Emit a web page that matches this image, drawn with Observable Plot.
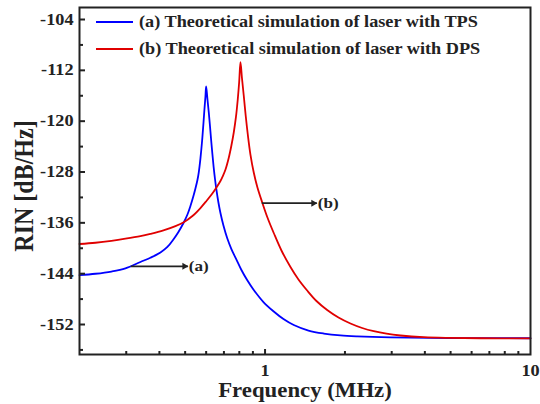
<!DOCTYPE html>
<html><head><meta charset="utf-8">
<script src="https://cdn.jsdelivr.net/npm/d3@7"></script>
<script src="https://cdn.jsdelivr.net/npm/@observablehq/plot@0.6"></script>
<style>html,body{margin:0;padding:0;background:#fff;}</style>
</head><body><div id="chart"></div>
<script>
// Series (a): laser with TPS  (frequency in MHz, RIN in dB/Hz)
const freqA = [0.2, 0.2296, 0.2638, 0.2979, 0.3393, 0.37, 0.4036, 0.4287, 0.4529, 0.4718, 0.494, 0.5101, 0.5235, 0.5373, 0.5467, 0.5563, 0.5626, 0.5709, 0.5794, 0.586, 0.5911, 0.5963, 0.5999, 0.6067, 0.6136, 0.62, 0.6265, 0.6336, 0.6402, 0.6475, 0.656, 0.6674, 0.6792, 0.6971, 0.7199, 0.7469, 0.785, 0.8148, 0.8562, 0.9067, 0.9862, 1.0784, 1.1731, 1.2829, 1.4578, 1.6644, 1.9234, 2.2233, 2.968, 5, 10];
const rinA  = [-144.24, -144.01, -143.66, -143.16, -142.16, -141.49, -140.67, -139.8, -138.54, -137.44, -135.95, -134.69, -133.35, -131.78, -130.6, -129.26, -128.08, -125.88, -123.04, -120.37, -118.16, -116.12, -114.54, -116.51, -118.56, -120.68, -122.96, -125.25, -127.21, -129.02, -130.83, -132.8, -134.45, -136.42, -138.39, -140.12, -142.01, -143.42, -145.0, -146.57, -148.46, -149.95, -151.14, -152.08, -152.95, -153.42, -153.72, -153.87, -154.03, -154.13, -154.16];
// Series (b): laser with DPS
const freqB = [0.2, 0.2296, 0.2638, 0.2979, 0.3393, 0.37, 0.4142, 0.4596, 0.494, 0.5327, 0.5709, 0.6014, 0.632, 0.656, 0.6792, 0.694, 0.7091, 0.7297, 0.7469, 0.7623, 0.777, 0.7892, 0.799, 0.808, 0.8185, 0.8313, 0.8458, 0.8606, 0.881, 0.9067, 0.9362, 0.9752, 1.021, 1.0784, 1.1529, 1.2468, 1.3363, 1.4409, 1.5619, 1.714, 1.8906, 2.098, 2.3226, 2.5683, 2.8675, 3.2374, 3.9537, 4.855, 6.479, 10];
const rinB  = [-139.33, -139.13, -138.83, -138.5, -138.09, -137.73, -137.18, -136.51, -135.9, -134.93, -133.67, -132.56, -131.43, -130.44, -129.42, -128.6, -127.65, -125.8, -123.83, -121.78, -119.34, -116.59, -113.84, -110.72, -113.21, -115.96, -119.19, -122.02, -125.25, -128.08, -130.44, -132.75, -135.16, -137.6, -140.35, -142.95, -144.92, -146.65, -148.3, -149.72, -150.9, -151.84, -152.55, -153.06, -153.45, -153.73, -154.0, -154.11, -154.16, -154.17];

const yMajor = [-104, -112, -120, -128, -136, -144, -152];
const yMinor = [-108, -116, -124, -132, -140, -148, -156];
const xMajor = [1, 10];
const xMinor = [0.3, 0.4, 0.5, 0.6, 0.7, 0.8, 0.9, 2, 3, 4, 5, 6, 7, 8, 9];
const legendLabels = ["(a) Theoretical simulation of laser with TPS", "(b) Theoretical simulation of laser with DPS"];
const seriesColors = ["#0000ff", "#e00000"];
const annLabels = ["(a)", "(b)"];
const annX1 = [0.312, 0.972];
const annX2 = [0.512, 1.567];
const annY = [-142.85, -132.9];

const W = 540, H = 404, ML = 79, MR = 10, MT = 7, MB = 50;
const innerW = W - ML - MR, innerH = H - MT - MB;
const ink = "#222";
const STRETCH = 1.14;

const dataA = freqA.map((f, i) => ({f, v: rinA[i]}));
const dataB = freqB.map((f, i) => ({f, v: rinB[i]}));
const annotations = annLabels.map((label, i) => ({label, x1: annX1[i], x2: annX2[i], y: annY[i]}));

function legend() {
  return (index, scales, values, dims) => {
    const g = d3.create("svg:g");
    legendLabels.forEach((label, i) => {
      const y = dims.marginTop + 15 + i * 27;
      g.append("line").attr("x1", dims.marginLeft + 17).attr("x2", dims.marginLeft + 54)
        .attr("y1", y).attr("y2", y).attr("stroke", seriesColors[i]).attr("stroke-width", 1.8);
      g.append("text").attr("transform", `translate(${dims.marginLeft + 60},${y})`)
        .attr("text-anchor", "start").attr("dy", "0.32em").attr("font-size", 16).attr("fill", ink).text(label);
    });
    return g.node();
  };
}

const chart = Plot.plot({
  width: W, height: H, marginLeft: ML, marginRight: MR, marginTop: MT, marginBottom: MB,
  x: {type: "log", domain: [0.2, 10]},
  y: {domain: [-156.72, -102.11]},
  style: {fontFamily: "'Liberation Serif','Times New Roman',serif", fontWeight: "bold", color: ink, background: "#fff", overflow: "visible"},
  marks: [
    Plot.line(dataA, {x: "f", y: "v", stroke: seriesColors[0], strokeWidth: 1.8, curve: "catmull-rom"}),
    Plot.line(dataB, {x: "f", y: "v", stroke: seriesColors[1], strokeWidth: 1.8, curve: "catmull-rom"}),
    Plot.link(annotations, {x1: "x1", x2: "x2", y1: "y", y2: "y", stroke: ink, strokeWidth: 1.8}),
    Plot.dot(annotations, {x: "x2", y: "y", symbol: "triangle", rotate: 90, r: 2.6, fill: ink, stroke: null, dx: -3.5}),
    Plot.text(annotations, {x: "x2", y: "y", text: "label", textAnchor: "start", dx: 1, fontSize: 15, fill: ink}),
    Plot.tickY(yMajor, {y: d => d, stroke: ink, strokeWidth: 2, insetRight: innerW - 6}),
    Plot.tickY(yMinor, {y: d => d, stroke: ink, strokeWidth: 2, insetRight: innerW - 4}),
    Plot.tickX([1], {x: d => d, stroke: ink, strokeWidth: 2, insetTop: innerH - 5}),
    Plot.tickX(xMinor, {x: d => d, stroke: ink, strokeWidth: 2, insetTop: innerH - 3}),
    Plot.axisY({ticks: yMajor, tickSize: 0, tickPadding: 6, fontSize: 16, tickFormat: d => String(d), label: null}),
    Plot.axisX({ticks: xMajor, tickSize: 0, tickPadding: 10, fontSize: 16, tickFormat: d => String(d), label: null}),
    Plot.text(["RIN [dB/Hz]"], {frameAnchor: "left", textAnchor: "middle", lineAnchor: "middle", rotate: -90, dx: -55, dy: 5, fontSize: 24, fill: ink}),
    Plot.text(["Frequency (MHz)"], {frameAnchor: "bottom", textAnchor: "middle", lineAnchor: "bottom", dy: 42, fontSize: 20, fill: ink}),
    legend(),
    Plot.frame({stroke: ink, strokeWidth: 2})
  ]
});

chart.querySelectorAll("text").forEach(t => {
  const tr = t.getAttribute("transform") || "";
  t.setAttribute("transform", tr + (/rotate/.test(tr) ? ` scale(1,${STRETCH})` : ` scale(${STRETCH},1)`));
});

document.getElementById("chart").appendChild(chart);
</script>
</body></html>
